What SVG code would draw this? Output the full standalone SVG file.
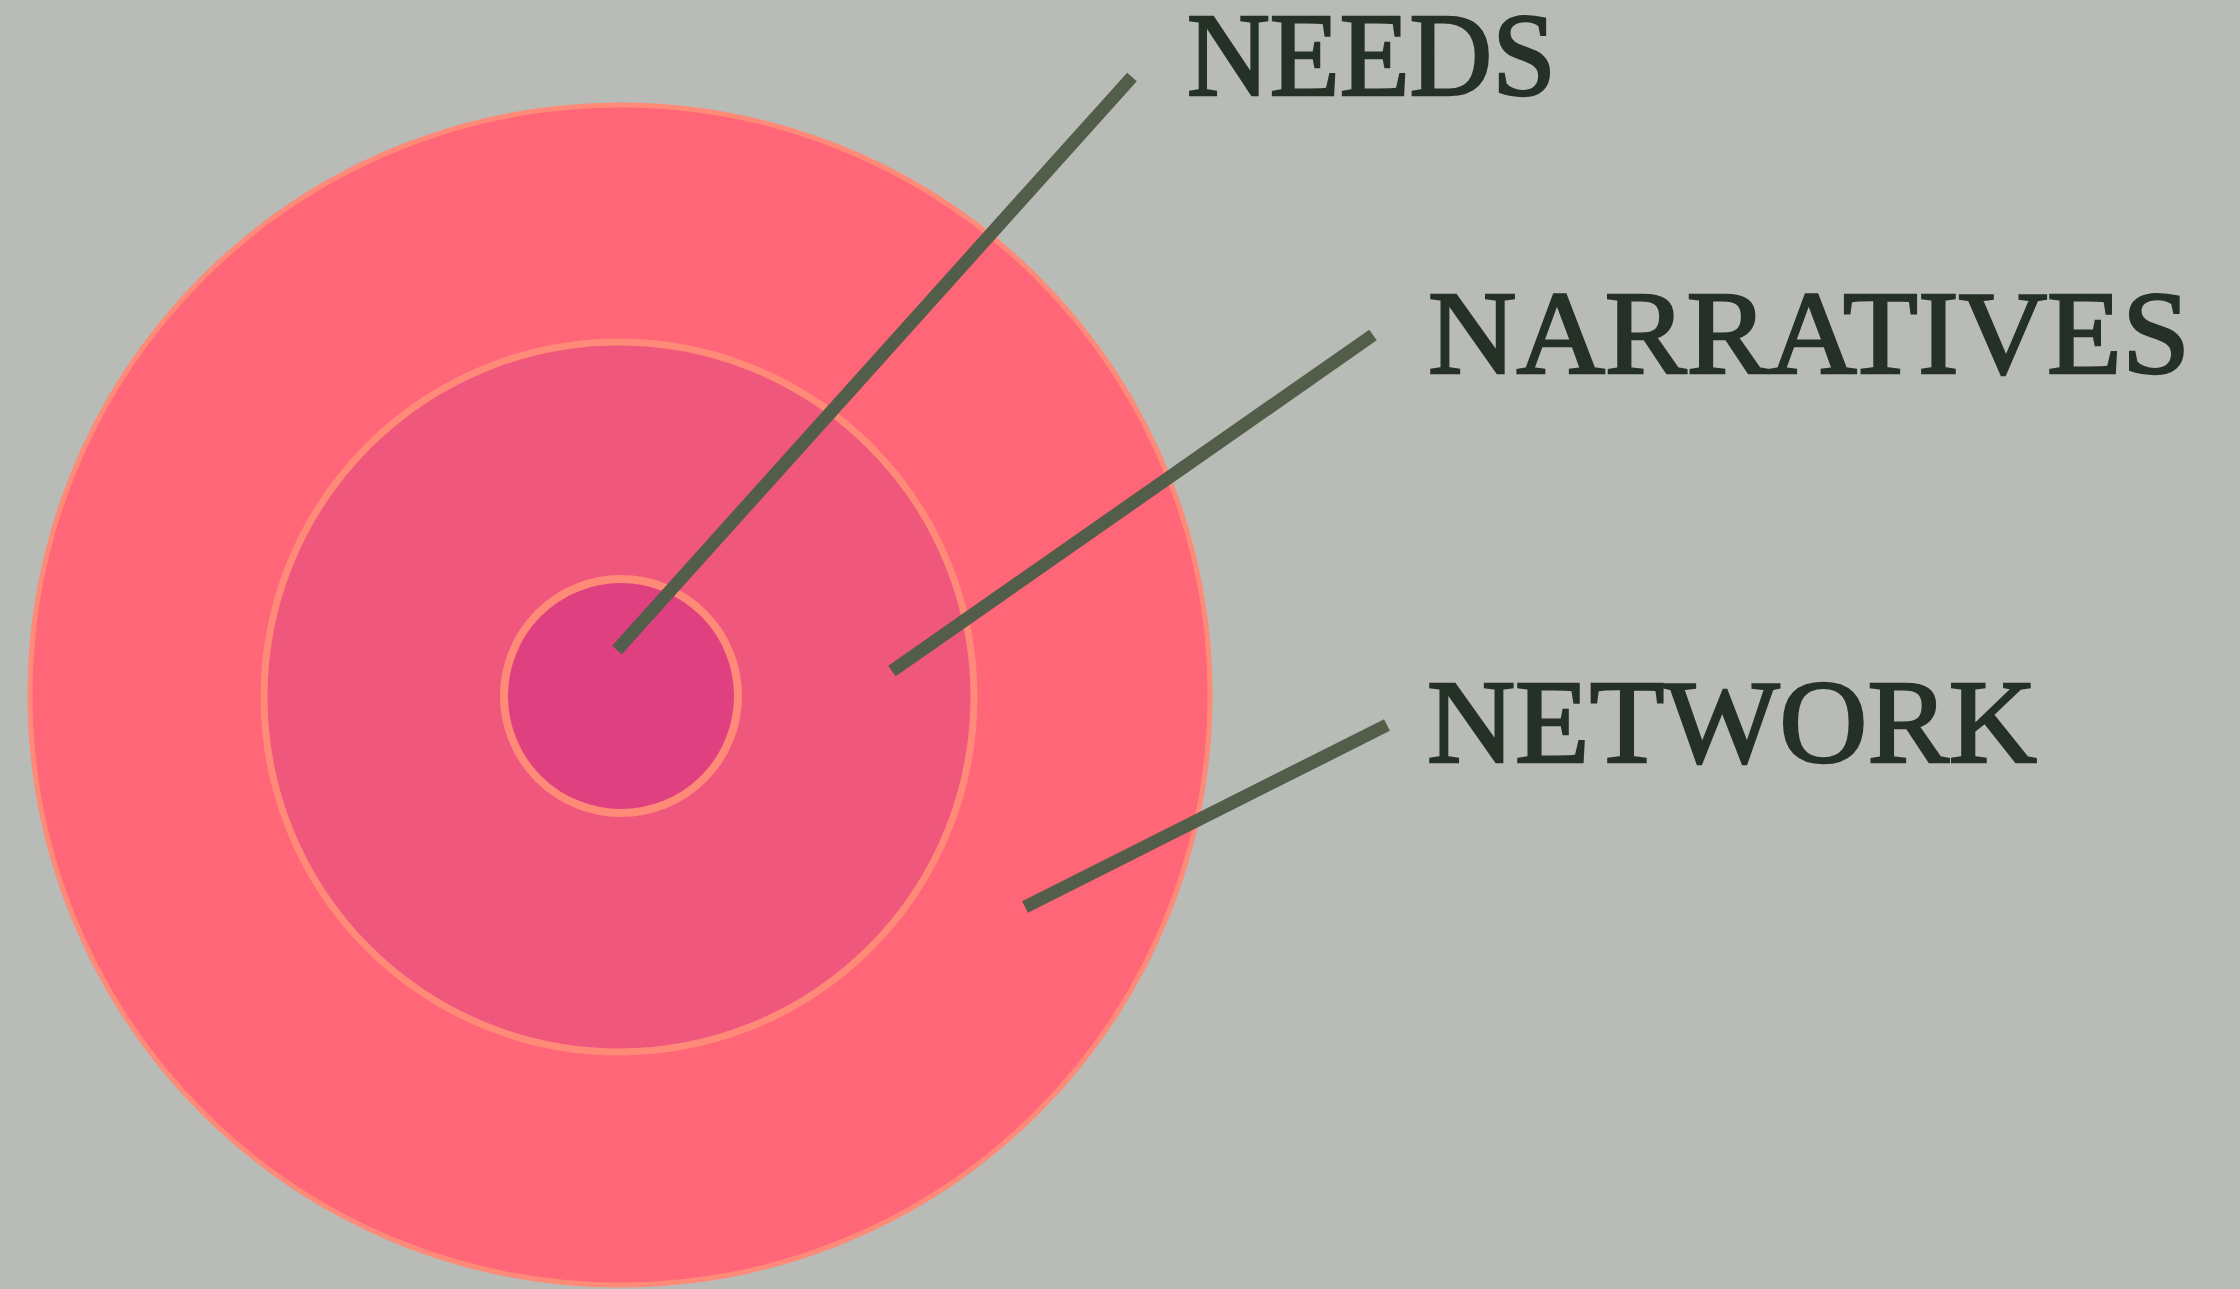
<svg xmlns="http://www.w3.org/2000/svg" width="2240" height="1289" viewBox="0 0 2240 1289">
<style>
.ring{stroke:#ff8a78}
.lbl{font-family:"Liberation Serif","Times New Roman",serif;font-size:118px;fill:#253126;stroke:#253126;stroke-width:2.5;stroke-linejoin:miter}
.conn{stroke:#535e4a;stroke-width:13;stroke-linecap:butt;fill:none}
</style>
<rect width="2240" height="1289" fill="#b9bbb7"/>
<g id="network-ring"><circle class="ring" cx="620" cy="695" r="590" fill="#ff6677" stroke-width="5"/></g>
<g id="narratives-ring"><circle class="ring" cx="619" cy="697" r="355" fill="#f0577c" stroke-width="7"/></g>
<g id="needs-core"><circle class="ring" cx="621" cy="696" r="117" fill="#de4080" stroke-width="8"/></g>
<g id="connectors">
<line class="conn" x1="617" y1="650" x2="1132" y2="77"/>
<line class="conn" x1="892" y1="671" x2="1373" y2="335"/>
<line class="conn" x1="1025" y1="907" x2="1387" y2="725"/>
</g>
<g id="label-needs"><text class="lbl" x="1187" y="95" textLength="369" lengthAdjust="spacingAndGlyphs">NEEDS</text></g>
<g id="label-narratives"><text class="lbl" x="1428" y="373" textLength="762" lengthAdjust="spacingAndGlyphs">NARRATIVES</text></g>
<g id="label-network"><text class="lbl" x="1427" y="762" textLength="610" lengthAdjust="spacingAndGlyphs">NETWORK</text></g>
</svg>
